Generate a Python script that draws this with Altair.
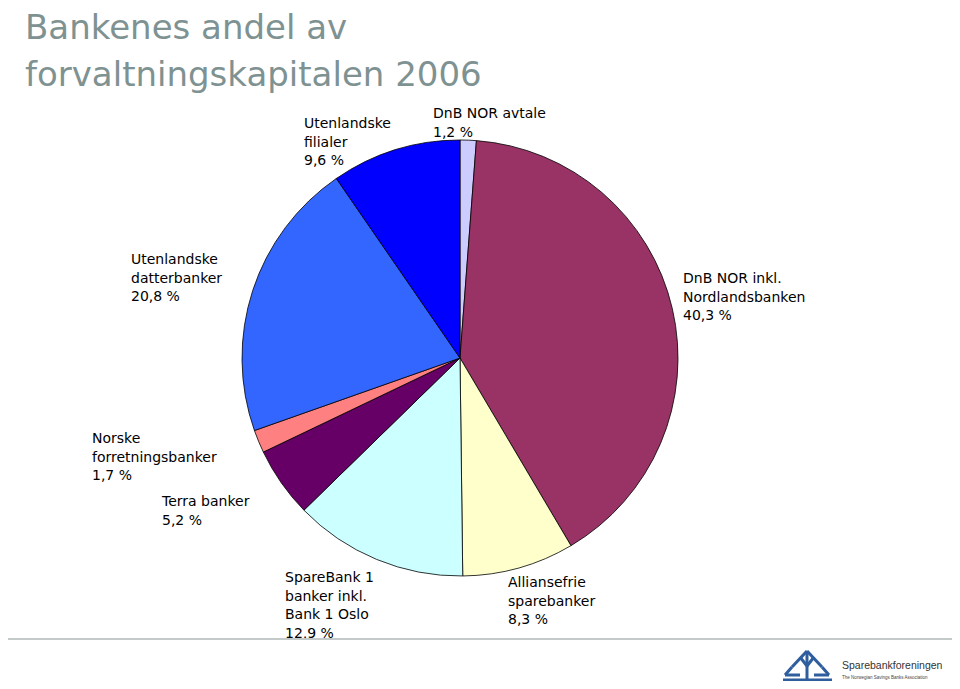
import altair as alt
import pandas as pd

# ---- data ----
segments = [
    "DnB NOR avtale",
    "DnB NOR inkl. Nordlandsbanken",
    "Alliansefrie sparebanker",
    "SpareBank 1 banker inkl. Bank 1 Oslo",
    "Terra banker",
    "Norske forretningsbanker",
    "Utenlandske datterbanker",
    "Utenlandske filialer",
]
shares = [1.2, 40.3, 8.3, 12.9, 5.2, 1.7, 20.8, 9.6]
label_lines = [
    "DnB NOR avtale",
    "DnB NOR inkl.\nNordlandsbanken",
    "Alliansefrie\nsparebanker",
    "SpareBank 1\nbanker inkl.\nBank 1 Oslo",
    "Terra banker",
    "Norske\nforretningsbanker",
    "Utenlandske\ndatterbanker",
    "Utenlandske\nfilialer",
]
colors = ["#CCCCFF", "#993366", "#FFFFCC", "#CCFFFF", "#660066", "#FF8080", "#3366FF", "#0000FF"]

title_lines = ["Bankenes andel av", "forvaltningskapitalen 2006"]
logo_name = "Sparebankforeningen"
logo_sub = "The Norwegian Savings Banks Association"

df = pd.DataFrame({
    "segment": segments,
    "share": shares,
    "order": list(range(len(segments))),
    "label": [l + "\n" + f"{v:.1f}".replace(".", ",") + " %" for l, v in zip(label_lines, shares)],
})

# ---- layout (chart coordinates) ----
CX, CY, R = 452, 350, 218
label_pos = {
    "DnB NOR avtale": (425, 110),
    "DnB NOR inkl. Nordlandsbanken": (675, 275),
    "Alliansefrie sparebanker": (500, 579),
    "SpareBank 1 banker inkl. Bank 1 Oslo": (277, 574),
    "Terra banker": (154, 498),
    "Norske forretningsbanker": (84, 435),
    "Utenlandske datterbanker": (123, 256),
    "Utenlandske filialer": (296, 120),
}
FONT = "DejaVu Sans"

base = alt.Chart(df)

pie = base.mark_arc(radius=R, stroke="black", strokeWidth=0.8).encode(
    theta=alt.Theta("share:Q", stack=True),
    order=alt.Order("order:Q", sort="ascending"),
    color=alt.Color("segment:N", scale=alt.Scale(domain=segments, range=colors), legend=None),
    x=alt.value(CX),
    y=alt.value(CY),
)

layers = [pie]
for seg in segments:
    px, py = label_pos[seg]
    layers.append(
        base.transform_filter(alt.datum.segment == seg)
        .mark_text(align="left", baseline="alphabetic", font=FONT, fontSize=14,
                   lineBreak="\n", lineHeight=18.7, color="black")
        .encode(text="label:N", x=alt.value(px), y=alt.value(py))
    )

title_df = pd.DataFrame({"t": ["\n".join(title_lines)]})
title = alt.Chart(title_df).mark_text(
    align="left", baseline="alphabetic", font=FONT, fontSize=34,
    lineBreak="\n", lineHeight=47, color="#7F9292"
).encode(text="t:N", x=alt.value(17), y=alt.value(31))
layers.append(title)

sep = alt.Chart(title_df).mark_rule(color="#C4CACA", strokeWidth=2).encode(
    x=alt.value(0), x2=alt.value(944), y=alt.value(631)
)
layers.append(sep)

# logo (decoration), chart coordinates
logo_segs = [
    (784, 659, 799, 643), (799, 643, 814, 659),      # roof
    (792, 649, 799, 658), (806, 649, 799, 658),      # Y branches
    (799, 643, 799, 676),                            # stem
    (784, 659, 777, 667), (777, 667, 792, 667),      # left wing
    (814, 659, 821, 667), (821, 667, 806, 667),      # right wing
    (775, 672, 824, 672),                            # base
]
for x1, y1, x2, y2 in logo_segs:
    layers.append(
        alt.Chart(title_df).mark_rule(color="#2E5E9E", strokeWidth=3).encode(
            x=alt.value(x1), y=alt.value(y1), x2=alt.value(x2), y2=alt.value(y2)
        )
    )
layers.append(
    alt.Chart(title_df).mark_text(align="left", baseline="alphabetic", font="Liberation Sans",
                                  fontSize=10.5, color="#333333")
    .encode(text=alt.value(logo_name), x=alt.value(834), y=alt.value(661))
)
layers.append(
    alt.Chart(title_df).mark_text(align="left", baseline="alphabetic", font="Liberation Sans",
                                  fontSize=4.5, color="#444444")
    .encode(text=alt.value(logo_sub), x=alt.value(834), y=alt.value(671))
)

chart = alt.layer(*layers).properties(
    width=944, height=673, autosize="none", padding=0
).configure_view(stroke=None)

chart.save("out.html", embed_options={"renderer": "svg", "actions": False})
